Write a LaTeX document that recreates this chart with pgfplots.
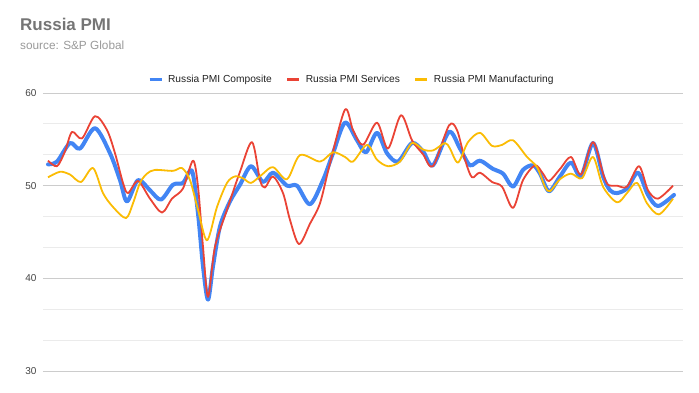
\documentclass[border=0pt]{standalone}
\usepackage{pgfplots}
\pgfplotsset{compat=1.18}
\usepackage{fontspec}
\setmainfont{Liberation Sans}
\definecolor{cblue}{HTML}{4285F4}
\definecolor{cred}{HTML}{EA4335}
\definecolor{cyellow}{HTML}{FBBC04}
\definecolor{titlegray}{HTML}{757575}
\definecolor{srcgray}{HTML}{999999}
\definecolor{labgray}{HTML}{444444}
\definecolor{legtext}{HTML}{222222}
\definecolor{majgrid}{HTML}{CCCCCC}
\definecolor{mingrid}{HTML}{EBEBEB}
\begin{document}
\begin{tikzpicture}[x=1pt,y=1pt]
\useasboundingbox (0,0) rectangle (699,392);
\node[anchor=base west, inner sep=0pt, text=titlegray, font=\bfseries\fontsize{17}{19}\selectfont] at (20,362) {Russia PMI};
\node[anchor=base west, inner sep=0pt, text=srcgray, font=\fontsize{11.8}{14}\selectfont] at (20,342.7) {source: S\&P Global};
\begin{axis}[
  at={(43pt,21pt)}, anchor=south west,
  scale only axis, width=640pt, height=278pt,
  xmin=43, xmax=683, ymin=30, ymax=60,
  xtick=\empty,
  ytick={30,40,50,60},
  minor ytick={33.333,36.667,43.333,46.667,53.333,56.667},
  ymajorgrids, yminorgrids,
  major grid style={majgrid, line width=0.8pt},
  minor grid style={mingrid, line width=0.8pt},
  axis line style={draw=none},
  major tick style={draw=none}, minor tick style={draw=none},
  /pgf/number format/assume math mode=true,
  yticklabel style={font=\fontsize{10}{11}\selectfont, text=labgray, inner sep=0pt, anchor=east, xshift=-6.3pt},
  legend style={at={(0.481,1.050)}, anchor=center, draw=none, fill=none, inner sep=0pt,
    font=\fontsize{10.2}{12}\selectfont, text=legtext, legend columns=3,
    nodes={inner sep=0pt},
    /tikz/every odd column/.append style={column sep=5pt},
    /tikz/every even column/.append style={column sep=14pt}},
  legend image code/.code={\draw[#1, line width=3pt, line cap=butt] (0pt,0pt) -- (12pt,0pt);},
  smooth, tension=0.5,
]
\addplot[cblue, line width=4pt, line join=round, line cap=round] coordinates {
(48,52.3) (57,52.6) (70,54.6) (80,54.0) (95,56.2) (110,53.5) (120,50.6) (127,48.3) (138,50.6) (150,49.5) (161,48.5) (173,50.1) (183,50.3) (192,51.6) (198,47.0) (203,41.3) (208,37.7) (213,41.3) (220,45.6) (230,48.3) (240,50.1) (251,52.1) (263,50.4) (273,51.4) (287,50.0) (297,50.0) (310,48.0) (323,50.6) (333,53.5) (345,56.8) (357,54.9) (366,53.6) (377,55.7) (387,53.5) (398,52.6) (412,54.6) (423,53.7) (433,52.2) (449,55.8) (460,54.0) (470,52.2) (480,52.7) (493,51.8) (503,51.3) (513,49.9) (523,51.7) (533,52.2) (540,51.3) (549,49.4) (560,51.0) (571,52.5) (581,51.0) (593,54.6) (603,51.0) (610,49.5) (617,49.2) (627,49.7) (638,51.4) (648,49.0) (658,47.8) (674,49.0)
};
\addlegendentry{Russia PMI Composite}
\addplot[cred, line width=1.8pt, line join=round] coordinates {
(48,52.7) (57,52.1) (65,53.7) (72,55.8) (82,55.1) (95,57.5) (107,56.0) (115,53.5) (123,50.3) (128,49.2) (138,50.5) (150,48.6) (162,47.1) (172,48.6) (183,49.7) (193,52.7) (198,49.9) (203,43.4) (208,38.0) (215,43.4) (227,47.4) (240,51.5) (252,54.7) (260,50.6) (265,49.8) (273,51.0) (283,49.2) (290,46.3) (299,43.7) (310,45.9) (320,48.1) (330,52.4) (345,58.2) (353,56.0) (363,54.4) (377,56.8) (388,54.0) (401,57.6) (412,54.9) (423,53.4) (433,52.1) (449,56.5) (457,56.0) (465,52.8) (472,50.9) (480,51.4) (492,50.4) (502,49.9) (513,47.6) (523,50.6) (535,52.2) (543,51.3) (549,50.5) (560,51.8) (571,53.1) (581,51.2) (593,54.7) (603,51.3) (608,50.1) (617,50.0) (627,49.9) (639,52.1) (648,49.5) (658,48.6) (673,50.0)
};
\addlegendentry{Russia PMI Services}
\addplot[cyellow, line width=1.8pt, line join=round] coordinates {
(48,50.9) (60,51.5) (70,51.2) (81,50.4) (93,51.9) (103,49.2) (113,47.7) (126,46.5) (133,48.1) (140,50.3) (147,51.3) (155,51.7) (173,51.6) (182,51.9) (190,50.6) (198,47.4) (207,44.1) (217,47.7) (227,50.3) (235,51.0) (243,50.8) (251,50.3) (262,51.2) (273,52.0) (287,50.7) (300,53.3) (320,52.6) (333,53.6) (345,53.1) (353,52.6) (367,54.4) (377,52.8) (388,52.1) (400,52.6) (412,54.6) (423,53.9) (433,53.8) (445,54.6) (450,54.0) (458,52.5) (468,54.7) (480,55.7) (492,54.3) (502,54.4) (513,54.9) (527,53.1) (537,52.0) (545,49.9) (550,49.4) (560,50.7) (571,51.3) (582,50.8) (593,53.1) (603,49.9) (617,48.2) (627,49.2) (637,50.3) (647,48.1) (659,46.9) (673,48.6)
};
\addlegendentry{Russia PMI Manufacturing}
\end{axis}
\end{tikzpicture}
\end{document}
